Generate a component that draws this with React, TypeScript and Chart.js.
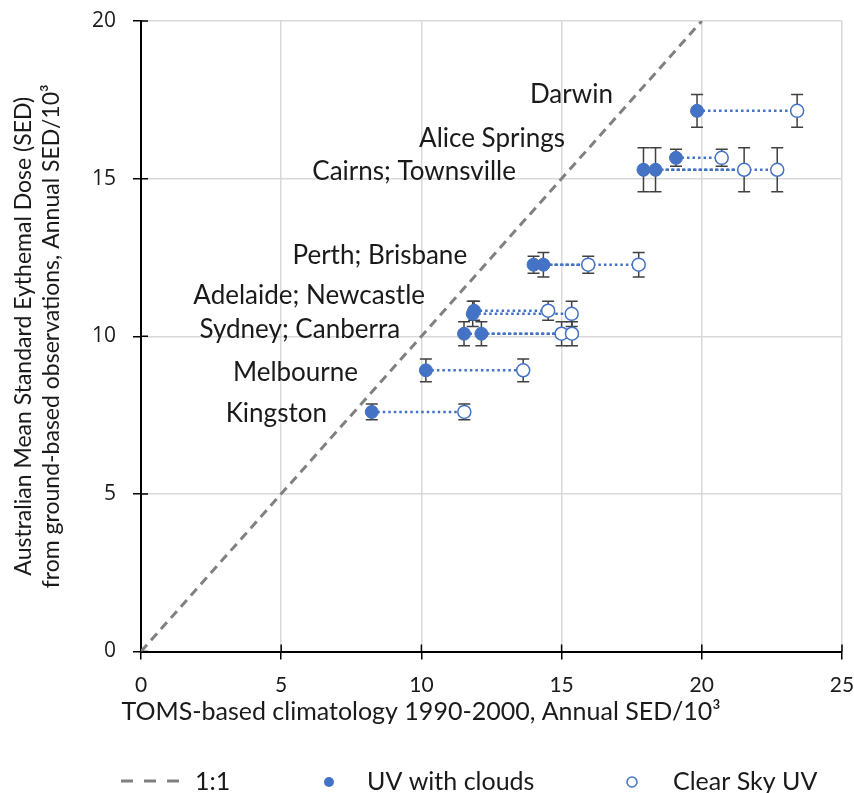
import React, { useEffect, useRef } from "react";
import { Chart, registerables } from "chart.js";

Chart.register(...registerables);

// ---- data ----
const cloudX = [19.83, 19.08, 17.92, 18.35, 14.0, 14.35, 11.88, 11.83, 11.52, 12.14, 10.16, 8.23];
const clearX = [23.4, 20.71, 21.51, 22.69, 15.95, 17.75, 14.52, 15.36, 15.0, 15.37, 13.63, 11.53];
const obsY = [17.15, 15.66, 15.28, 15.28, 12.27, 12.27, 10.81, 10.71, 10.08, 10.08, 8.92, 7.6];
const obsErr = [0.52, 0.27, 0.7, 0.7, 0.27, 0.39, 0.3, 0.4, 0.38, 0.38, 0.36, 0.25];

const stationLabels = [
  "Darwin",
  "Alice Springs",
  "Cairns; Townsville",
  "Perth; Brisbane",
  "Adelaide; Newcastle",
  "Sydney; Canberra",
  "Melbourne",
  "Kingston",
];
// label anchor (right end / baseline) in data units
const labelX = [16.83, 15.12, 13.37, 11.63, 10.13, 9.24, 7.74, 6.63];
const labelY = [17.4, 16.01, 14.96, 12.3, 11.03, 9.95, 8.59, 7.29];

const oneToOne = [
  { x: 0, y: 0 },
  { x: 20, y: 20 },
];

const xTicks = [0, 5, 10, 15, 20, 25];
const yTicks = [0, 5, 10, 15, 20];

const legendLabels = ["1:1", "UV with clouds", "Clear Sky UV"];

const xTitle = "TOMS-based climatology 1990-2000, Annual SED/10³";
const yTitle = [
  "Australian Mean Standard Eythemal Dose (SED)",
  "from ground-based observations, Annual SED/10³",
];

const BLUE = "#4472C4";
const GRAY = "#808080";
const FONT = "Lato, 'Open Sans', sans-serif";

const errorBarPlugin = {
  id: "errorBars",
  beforeDatasetsDraw(chart: any) {
    const { ctx, scales } = chart;
    const xs = scales.x;
    const ys = scales.y;
    ctx.save();
    ctx.strokeStyle = "#404040";
    ctx.lineWidth = 1.5;
    const cap = 6;
    const draw = (xv: number, yv: number, e: number) => {
      const px = xs.getPixelForValue(xv);
      const top = ys.getPixelForValue(yv + e);
      const bot = ys.getPixelForValue(yv - e);
      ctx.beginPath();
      ctx.moveTo(px, top);
      ctx.lineTo(px, bot);
      ctx.moveTo(px - cap, top);
      ctx.lineTo(px + cap, top);
      ctx.moveTo(px - cap, bot);
      ctx.lineTo(px + cap, bot);
      ctx.stroke();
    };
    for (let i = 0; i < obsY.length; i++) {
      draw(cloudX[i], obsY[i], obsErr[i]);
      draw(clearX[i], obsY[i], obsErr[i]);
    }
    ctx.restore();
  },
};

const innerTicksPlugin = {
  id: "innerTicks",
  beforeDatasetsDraw(chart: any) {
    const { ctx, scales, chartArea } = chart;
    ctx.save();
    ctx.strokeStyle = "#000";
    ctx.lineWidth = 1.5;
    ctx.beginPath();
    xTicks.forEach((v) => {
      const px = scales.x.getPixelForValue(v);
      ctx.moveTo(px, chartArea.bottom);
      ctx.lineTo(px, chartArea.bottom - 7);
    });
    yTicks.forEach((v) => {
      const py = scales.y.getPixelForValue(v);
      ctx.moveTo(chartArea.left, py);
      ctx.lineTo(chartArea.left + 7, py);
    });
    ctx.stroke();
    ctx.restore();
  },
};

const labelsPlugin = {
  id: "stationLabels",
  afterDatasetsDraw(chart: any) {
    const { ctx, scales } = chart;
    ctx.save();
    ctx.font = `26px ${FONT}`;
    ctx.fillStyle = "#1a1a1a";
    ctx.textAlign = "right";
    ctx.textBaseline = "alphabetic";
    stationLabels.forEach((t, i) => {
      ctx.fillText(t, scales.x.getPixelForValue(labelX[i]), scales.y.getPixelForValue(labelY[i]));
    });
    ctx.restore();
  },
};

const legendPlugin = {
  id: "customLegend",
  afterDraw(chart: any) {
    const { ctx } = chart;
    ctx.save();
    const lineY = 781;
    // 1:1 dashed line
    ctx.strokeStyle = GRAY;
    ctx.lineWidth = 3;
    ctx.setLineDash([12, 11]);
    ctx.beginPath();
    ctx.moveTo(121, lineY);
    ctx.lineTo(180, lineY);
    ctx.stroke();
    ctx.setLineDash([]);
    // filled dot
    ctx.fillStyle = BLUE;
    ctx.beginPath();
    ctx.arc(329, 782, 5, 0, Math.PI * 2);
    ctx.fill();
    // open dot
    ctx.fillStyle = "#fff";
    ctx.strokeStyle = BLUE;
    ctx.lineWidth = 1.5;
    ctx.beginPath();
    ctx.arc(632, 782, 5, 0, Math.PI * 2);
    ctx.fill();
    ctx.stroke();
    // texts
    ctx.font = `25px ${FONT}`;
    ctx.fillStyle = "#1a1a1a";
    ctx.textAlign = "left";
    ctx.textBaseline = "alphabetic";
    ctx.fillText(legendLabels[0], 195, 790);
    ctx.fillText(legendLabels[1], 367, 790);
    ctx.fillText(legendLabels[2], 673, 790);
    ctx.restore();
  },
};

export default function App() {
  const ref = useRef<HTMLCanvasElement | null>(null);
  useEffect(() => {
    document.body.style.margin = "0";
    if (!ref.current) return;
    const connectors = obsY.map((y, i) => ({
      type: "scatter" as const,
      data: [
        { x: cloudX[i], y },
        { x: clearX[i], y },
      ],
      showLine: true,
      borderColor: BLUE,
      borderWidth: 2.5,
      borderDash: [2.5, 3],
      pointRadius: 0,
      pointHoverRadius: 0,
      order: 3,
    }));
    const chart = new Chart(ref.current, {
      type: "scatter",
      data: {
        datasets: [
          {
            label: legendLabels[1],
            data: cloudX.map((x, i) => ({ x, y: obsY[i] })),
            pointRadius: 6.5,
            pointBackgroundColor: BLUE,
            pointBorderColor: BLUE,
            pointBorderWidth: 1,
            order: 1,
          },
          {
            label: legendLabels[2],
            data: clearX.map((x, i) => ({ x, y: obsY[i] })),
            pointRadius: 6.5,
            pointBackgroundColor: "#ffffff",
            pointBorderColor: BLUE,
            pointBorderWidth: 1.5,
            order: 2,
          },
          ...connectors,
          {
            label: legendLabels[0],
            data: oneToOne,
            showLine: true,
            borderColor: GRAY,
            borderWidth: 3,
            borderDash: [9, 6],
            pointRadius: 0,
            order: 4,
          },
        ] as any,
      },
      options: {
        animation: false,
        responsive: false,
        events: [],
        layout: { padding: { top: 21, right: 12, bottom: 67, left: 0 } },
        plugins: {
          legend: { display: false },
          tooltip: { enabled: false },
          title: {
            display: true,
            position: "bottom",
            text: xTitle,
            color: "#1a1a1a",
            font: { family: FONT, size: 25, weight: "normal", lineHeight: 1.1 },
            padding: { top: 0, bottom: 0 },
          },
        },
        scales: {
          x: {
            type: "linear",
            min: 0,
            max: 25,
            afterBuildTicks: (s: any) => {
              s.ticks = xTicks.map((v) => ({ value: v }));
            },
            afterFit: (s: any) => {
              s.height = 47;
              s.paddingLeft = 0;
              s.paddingRight = 0;
            },
            ticks: {
              color: "#1a1a1a",
              padding: 13,
              font: { family: FONT, size: 21 },
            },
            grid: {
              color: "#d9d9d9",
              lineWidth: 1.5,
              tickColor: "#000",
              tickLength: 8,
              tickWidth: 1.5,
            },
            border: { color: "#000", width: 2 },
          },
          y: {
            type: "linear",
            min: 0,
            max: 20,
            afterBuildTicks: (s: any) => {
              s.ticks = yTicks.map((v) => ({ value: v }));
            },
            afterFit: (s: any) => {
              s.width = 141;
              s.paddingTop = 0;
              s.paddingBottom = 0;
            },
            ticks: {
              color: "#1a1a1a",
              padding: 17,
              font: { family: "'Open Sans', sans-serif", size: 21 },
            },
            grid: {
              color: "#d9d9d9",
              lineWidth: 1.5,
              tickColor: "#000",
              tickLength: 8,
              tickWidth: 1.5,
            },
            border: { color: "#000", width: 2 },
            title: {
              display: true,
              text: yTitle,
              color: "#1a1a1a",
              font: { family: FONT, size: 23, lineHeight: 1.2 },
              padding: { top: 10, bottom: 0 },
            },
          },
        },
      } as any,
      plugins: [errorBarPlugin, innerTicksPlugin, labelsPlugin, legendPlugin],
    });
    return () => chart.destroy();
  }, []);
  return (
    <div style={{ width: 854, height: 793 }}>
      <canvas ref={ref} width={854} height={793} style={{ display: "block" }} />
    </div>
  );
}
